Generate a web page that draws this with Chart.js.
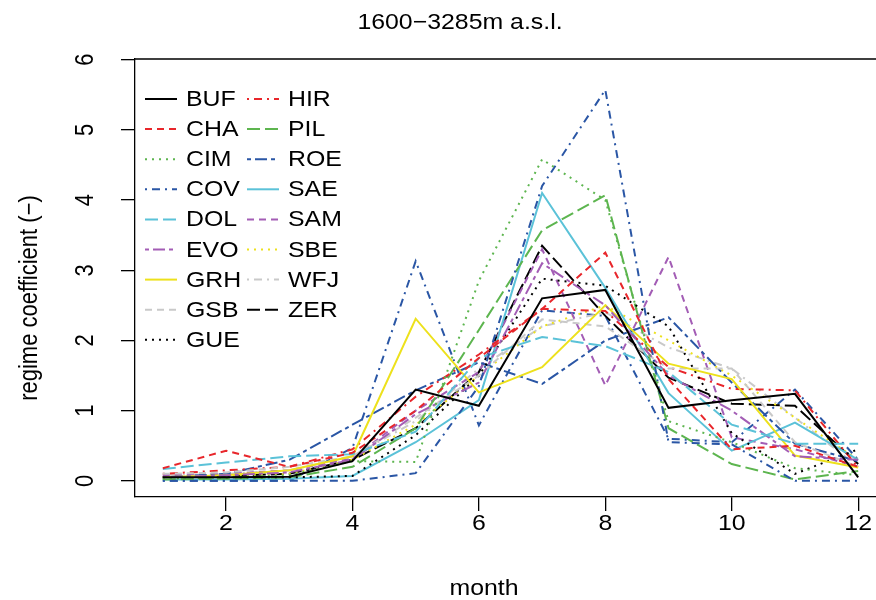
<!DOCTYPE html>
<html>
<head>
<meta charset="UTF-8">
<title>regime coefficient</title>
<script src="https://cdn.jsdelivr.net/npm/chart.js@4.4.4/dist/chart.umd.min.js"></script>
<style>
html, body { margin: 0; padding: 0; background: #fff; overflow: hidden; }
#wrap { width: 900px; height: 600px; }
</style>
</head>
<body>
<div id="wrap"><canvas id="myChart" width="900" height="600"></canvas></div>
<script>
// monthly regime coefficients, 1600-3285m a.s.l.
const months = [1, 2, 3, 4, 5, 6, 7, 8, 9, 10, 11, 12];
const stations = ['BUF', 'CHA', 'CIM', 'COV', 'DOL', 'EVO', 'GRH', 'GSB', 'GUE',
                  'HIR', 'PIL', 'ROE', 'SAE', 'SAM', 'SBE', 'WFJ', 'ZER'];
const BUF = [0.05, 0.05, 0.06, 0.28, 1.30, 1.07, 2.60, 2.72, 1.04, 1.15, 1.24, 0.05];
const CHA = [0.18, 0.43, 0.20, 0.40, 1.00, 1.75, 2.45, 3.25, 1.45, 0.45, 0.50, 0.20];
const CIM = [0.03, 0.05, 0.08, 0.28, 0.27, 2.85, 4.58, 4.00, 0.85, 0.55, 0.18, 0.08];
const COV = [0.00, 0.00, 0.00, 0.00, 0.11, 1.35, 4.20, 5.57, 0.55, 0.52, 0.00, 0.00];
const DOL = [0.17, 0.26, 0.35, 0.38, 0.70, 1.75, 2.05, 1.92, 1.55, 0.80, 0.53, 0.53];
const EVO = [0.05, 0.08, 0.12, 0.30, 0.95, 1.40, 3.10, 2.50, 1.50, 1.00, 0.35, 0.30];
const GRH = [0.05, 0.08, 0.15, 0.35, 2.31, 1.26, 1.62, 2.50, 1.67, 1.45, 0.36, 0.19];
const GSB = [0.10, 0.12, 0.20, 0.35, 0.90, 1.50, 2.30, 2.20, 1.60, 1.60, 0.55, 0.20];
const GUE = [0.05, 0.05, 0.05, 0.07, 0.65, 1.50, 2.88, 2.78, 2.20, 0.68, 0.10, 0.45];
const HIR = [0.10, 0.15, 0.20, 0.45, 1.20, 1.80, 2.45, 2.42, 1.62, 1.31, 1.29, 0.19];
const PIL = [0.02, 0.03, 0.05, 0.20, 0.75, 2.15, 3.57, 4.07, 0.75, 0.24, 0.02, 0.14];
const ROE = [0.05, 0.10, 0.30, 0.80, 1.29, 1.69, 1.38, 2.00, 2.33, 1.40, 0.53, 0.28];
const SAE = [0.02, 0.02, 0.03, 0.07, 0.55, 1.15, 4.10, 2.75, 1.25, 0.43, 0.83, 0.30];
const SAM = [0.08, 0.10, 0.15, 0.32, 1.00, 1.55, 3.30, 1.36, 3.19, 0.62, 0.45, 0.20];
const SBE = [0.05, 0.07, 0.10, 0.30, 0.80, 1.50, 2.20, 2.50, 2.00, 1.50, 0.90, 0.30];
const WFJ = [0.08, 0.10, 0.15, 0.35, 0.85, 1.60, 2.20, 2.40, 1.90, 1.60, 0.90, 0.20];
const ZER = [0.05, 0.07, 0.10, 0.30, 0.75, 1.55, 3.35, 2.35, 1.47, 1.10, 1.07, 0.24];
// a further blue line is drawn in the figure but has no legend entry
const EXTRA = [0.00, 0.00, 0.00, 0.47, 3.13, 0.79, 2.43, 2.35, 0.60, 0.55, 1.30, 0.30];
const values = [BUF, CHA, CIM, COV, DOL, EVO, GRH, GSB, GUE, HIR, PIL, ROE, SAE, SAM, SBE, WFJ, ZER];

const xTicks = [2, 4, 6, 8, 10, 12];
const yTicks = [0, 1, 2, 3, 4, 5, 6];

// R style palette and line types, recycled like matplot does
const palette = ['#000000', '#E8262B', '#5DB54F', '#2A56A5', '#5BC2D8', '#A35DB5', '#EDE11C', '#C9C9C9'];
const ltys = [[], [7, 5], [2, 5], [2, 5, 8, 5], [13, 5], [4, 4, 12, 4]];

const FONT = '22px "Liberation Sans", Arial, Helvetica, sans-serif';
const STRETCH = 1.13; // the figure's text is a bit wider than tall

const datasets = stations.map((name, i) => ({
  label: name,
  data: months.map((m, j) => ({ x: m, y: values[i][j] })),
  borderColor: palette[i % 8],
  borderDash: ltys[i % 6],
  borderWidth: 2,
  pointRadius: 0,
  tension: 0,
  fill: false
}));
datasets.push({
  label: '',
  data: months.map((m, j) => ({ x: m, y: EXTRA[j] })),
  borderColor: palette[3],
  borderDash: ltys[3],
  borderWidth: 2,
  pointRadius: 0,
  tension: 0,
  fill: false
});

function text(ctx, s, x, y, rot, align) {
  ctx.save();
  ctx.translate(x, y);
  ctx.scale(STRETCH, 1);
  if (rot) ctx.rotate(-Math.PI / 2);
  ctx.textAlign = align || 'center';
  ctx.fillText(s, 0, 0);
  ctx.restore();
}

// texts, rotated y labels, box and the inset legend, R look
const rDecor = {
  id: 'rDecor',
  afterDraw(chart) {
    const ctx = chart.ctx;
    const a = chart.chartArea;
    const xs = chart.scales.x, ys = chart.scales.y;
    ctx.save();
    ctx.fillStyle = '#000';
    ctx.strokeStyle = '#000';

    // top / right of the box
    ctx.lineWidth = 1.3;
    ctx.setLineDash([]);
    ctx.beginPath();
    ctx.moveTo(a.left, a.top);
    ctx.lineTo(a.right, a.top);
    ctx.lineTo(a.right, a.bottom);
    ctx.stroke();

    ctx.font = FONT;
    ctx.textBaseline = 'middle';
    text(ctx, '1600\u22123285m a.s.l.', 460, 23);

    xTicks.forEach(v => text(ctx, String(v), xs.getPixelForValue(v), 524));
    text(ctx, 'month', 484, 589);

    yTicks.forEach(v => text(ctx, String(v), 86, ys.getPixelForValue(v), true));
    text(ctx, 'regime coefficient (\u2212)', 30, 298, true);

    // legend, two columns
    const rowH = 30.1, top = 99;
    stations.forEach((name, i) => {
      const col = i < 9 ? 0 : 1;
      const row = i < 9 ? i : i - 9;
      const y = top + row * rowH;
      const x0 = col === 0 ? 145 : 247;
      const ds = chart.data.datasets[i];
      ctx.strokeStyle = ds.borderColor;
      ctx.lineWidth = 2;
      ctx.setLineDash(ds.borderDash);
      ctx.beginPath();
      ctx.moveTo(x0, y);
      ctx.lineTo(x0 + 32, y);
      ctx.stroke();
      ctx.fillStyle = '#000';
      text(ctx, name, x0 + 41, y + 1, false, 'left');
    });
    ctx.restore();
  }
};

const ctx = document.getElementById('myChart').getContext('2d');
const myChart = new Chart(ctx, {
  type: 'line',
  data: { datasets: datasets },
  options: {
    responsive: false,
    animation: false,
    devicePixelRatio: 1,
    layout: { padding: { left: 0, top: 59, right: 14, bottom: 0 } },
    plugins: {
      legend: { display: false },
      title: { display: false },
      tooltip: { enabled: false }
    },
    scales: {
      x: {
        type: 'linear',
        min: 0.56,
        max: 12.44,
        afterBuildTicks: s => { s.ticks = xTicks.map(v => ({ value: v })); },
        afterFit: s => { s.height = 103; },
        ticks: { display: false },
        grid: { drawOnChartArea: false, drawTicks: true, tickLength: 14, color: '#000', lineWidth: 1.3 },
        border: { display: true, color: '#000', width: 1.3 }
      },
      y: {
        min: -0.23,
        max: 6.01,
        afterBuildTicks: s => { s.ticks = yTicks.map(v => ({ value: v })); },
        afterFit: s => { s.width = 135; },
        ticks: { display: false },
        grid: { drawOnChartArea: false, drawTicks: true, tickLength: 14, color: '#000', lineWidth: 1.3 },
        border: { display: true, color: '#000', width: 1.3 }
      }
    }
  },
  plugins: [rDecor]
});
</script>
</body>
</html>
